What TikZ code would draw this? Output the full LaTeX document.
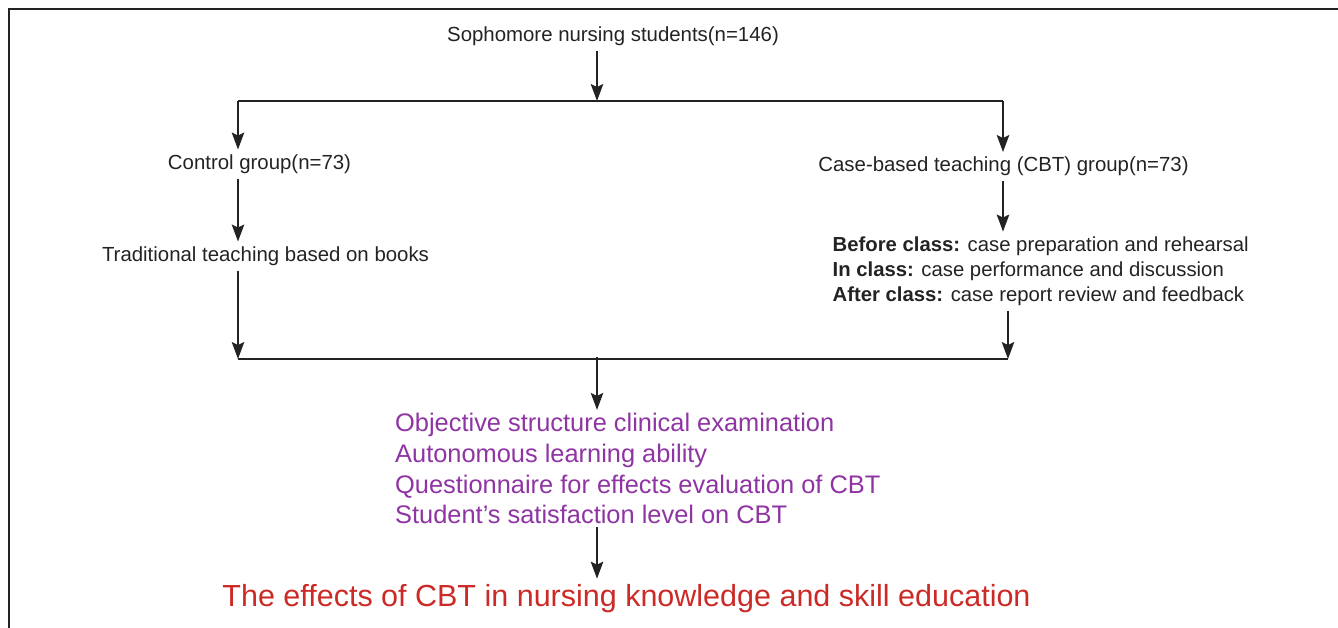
\documentclass[tikz,border=0pt]{standalone}
\usepackage{fontspec}
\setmainfont{Liberation Sans}
\usetikzlibrary{arrows.meta}
\definecolor{ink}{RGB}{35,35,35}
\definecolor{measure}{RGB}{143,52,163}
\definecolor{outcome}{RGB}{204,42,38}
\begin{document}
\begin{tikzpicture}[x=1pt,y=-1pt,
  ln/.style={draw=ink, line width=1.6pt},
  arr/.style={ln, -{Stealth[length=17pt,width=12.5pt,inset=3pt]}},
  frameline/.style={draw=ink, line width=1.8pt},
  lbl/.style={inner xsep=0pt, inner ysep=5pt, text=ink, font=\fontsize{20.4}{24}\selectfont},
  stage/.style={inner xsep=0pt, inner ysep=5pt, text=ink, font=\fontsize{20.3}{24}\selectfont, anchor=base west},
  meas/.style={inner xsep=0pt, inner ysep=3pt, text=measure, font=\fontsize{25.4}{30}\selectfont, anchor=base west},
  result/.style={inner xsep=0pt, inner ysep=5pt, text=outcome, font=\fontsize{30.5}{36}\selectfont}]
\useasboundingbox (0,0) rectangle (1338,628);

% outer frame (left and top edges)
\draw[frameline] (9,628) -- (9,9) -- (1338,9);

% text blocks
\node[lbl, anchor=base] (top) at (613,42) {Sophomore nursing students(n=146)};
\node[lbl, anchor=base] (ctl) at (259.5,169.5) {Control group(n=73)};
\node[lbl, anchor=base] (cbt) at (1003.5,172) {Case-based teaching (CBT) group(n=73)};
\node[lbl, anchor=base] (trad) at (265.5,261.5) {Traditional teaching based on books};

\node[stage] (b1) at (832.5,251.5) {\textbf{Before class:} case preparation and rehearsal};
\node[stage] (b2) at (832.5,276.5) {\textbf{In class:} case performance and discussion};
\node[stage] (b3) at (832.5,301.5) {\textbf{After class:} case report review and feedback};

\node[meas] (m1) at (395,431.5) {Objective structure clinical examination};
\node[meas] (m2) at (395,462.5) {Autonomous learning ability};
\node[meas] (m3) at (395,493) {Questionnaire for effects evaluation of CBT};
\node[meas] (m4) at (395,523.5) {Student’s satisfaction level on CBT};

\node[result, anchor=base] (res) at (626.5,606) {The effects of CBT in nursing knowledge and skill education};

% junction points
\coordinate (jt) at (597,101);
\coordinate (jl) at (238,101);
\coordinate (jr) at (1003,101);
\coordinate (jbl) at (238,359);
\coordinate (jbr) at (1008,359);
\coordinate (jb) at (597,359);

% split into two groups
\draw[arr] (top.south -| jt) -- (jt);
\draw[ln] (jl) -- (jr);
\draw[arr] (jl) -- (jl |- ctl.north);
\draw[arr] (jr) -- (jr |- cbt.north);

% teaching in each group
\draw[arr] (ctl.south -| jl) -- (jl |- trad.north);
\draw[arr] (cbt.south -| jr) -- (jr |- b1.north);

% merge
\draw[arr] (trad.south -| jl) -- (jbl);
\draw[arr] (b3.south -| jbr) -- (jbr);
\draw[ln] (jbl) -- (jbr);

% outcome measures and result
\draw[arr] ([yshift=2pt]jb) -- (jb |- m1.north);
\draw[arr] (m4.south -| jb) -- (jb |- res.north);
\end{tikzpicture}
\end{document}
